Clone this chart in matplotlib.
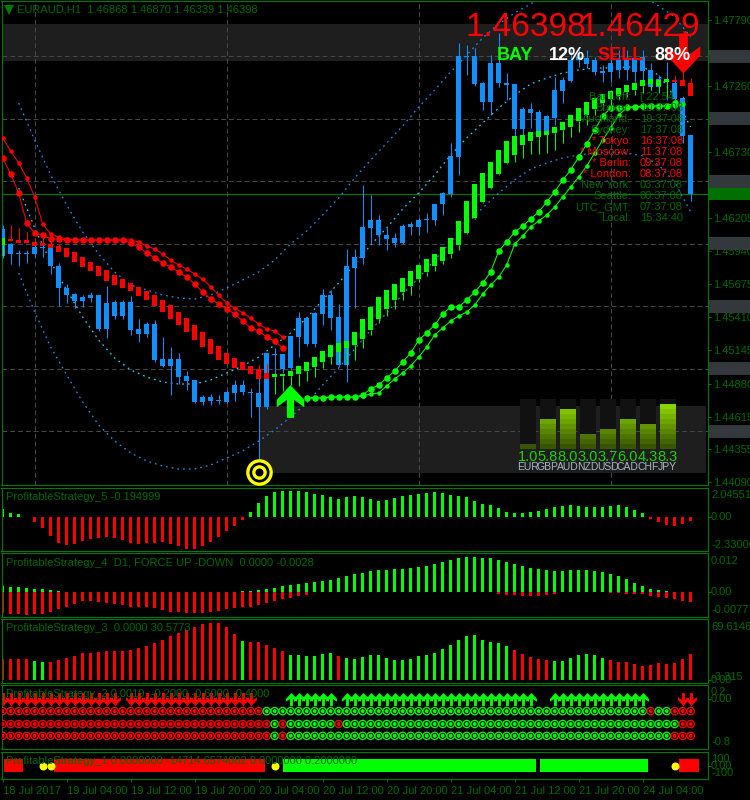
import numpy as np
import matplotlib
matplotlib.use("Agg")
import matplotlib.pyplot as plt
from matplotlib.colors import LinearSegmentedColormap
from matplotlib.patches import Rectangle
from matplotlib.path import Path

plt.rcParams['font.family'] = ['Liberation Sans', 'DejaVu Sans']

PT = 1e-5  # one broker point; price arrays below are in points
# ---------- candles ----------
body_top = [146116,145996,145924,145924,145972,145972,145972,145820,145644,145596,145572,145588,145588,145524,145532,145532,145532,145316,145356,145356,145076,145076,145076,144940,144908,144772,144772,144748,144812,144868,144868,144812,144804,145124,145116,145116,145260,145404,145404,145444,145588,145588,145412,145820,145892,146132,146188,146188,146068,146044,146140,146156,146188,146196,146316,146404,146700,147500,147500,147500,147284,147444,147444,147284,147276,147076,147076,147052,147020,147228,147308,147468,147492,147484,147468,147380,147444,147468,147484,147484,147492,147388,147316,147308,147284,147164,146868]
body_bot = [145900,145916,145916,145916,145916,145964,145820,145644,145588,145540,145540,145564,145316,145316,145420,145420,145308,145276,145276,145068,145020,145020,144932,144900,144732,144732,144740,144740,144732,144804,144812,144804,144692,144692,145108,144996,145004,145252,145196,145196,145436,145404,145028,145028,145804,145884,146124,146068,146036,146004,146004,146132,146132,146188,146188,146316,146396,146692,147492,147276,147132,147132,147284,147268,146916,146916,147044,146860,146868,147004,147220,147300,147468,147436,147372,147364,147372,147388,147388,147372,147380,147252,147252,147292,147156,146860,146398]
wick_high = [146148,146004,145948,145948,145996,145996,145996,145844,145676,145604,145588,145612,145588,145660,145548,145548,145580,145396,145372,145388,145252,145172,145124,144980,144908,144788,144796,144788,144828,144908,144908,144844,145028,145124,145164,145116,145260,145452,145404,145452,145636,145628,145516,145956,145956,146468,146388,146228,146132,146084,146156,146172,146204,146244,146316,146412,146804,147604,147588,147564,147292,147508,147684,147364,147276,147092,147124,147068,147028,147332,147332,147548,147548,147548,147492,147428,147548,147548,147548,147548,147548,147444,147348,147452,147308,147180,146870]
wick_low = [145884,145836,145820,145844,145892,145892,145756,145500,145524,145484,145492,145532,145300,145244,145396,145396,145268,145212,145252,145052,145012,144788,144876,144828,144724,144708,144708,144716,144724,144740,144788,144612,144212,144676,144948,144964,144988,145092,145180,145172,145348,145308,145012,144892,145484,145836,146004,145988,145948,145972,145996,146068,146068,146092,146148,146228,146372,146548,147348,147260,147068,147028,147252,147148,146812,146868,146924,146748,146828,146948,147124,147292,147412,147404,147348,147292,147292,147324,147308,147292,147292,147228,147204,147148,147148,146804,146339]

# ---------- smoothed red/green candles ----------
ha_top = [146044,146036,146028,146028,146012,146004,145996,145980,145964,145932,145892,145852,145820,145788,145748,145716,145684,145652,145620,145588,145548,145508,145452,145404,145348,145292,145236,145180,145124,145084,145052,145020,144996,144964,
          144956,144956,144980,145020,145052,145092,145140,145188,145204,145220,145292,145396,145492,145572,145628,145676,145724,145780,145828,145876,145916,145972,146044,146180,146340,146476,146564,146652,146748,146820,146860,146868,146892,146900,146900,146932,146972,147028,147084,147132,147164,147196,147220,147244,147268,147284,147308,147316,147308,147316,
          147308,147308,147284]
ha_bot = [145988,146020,146004,146004,145980,145980,145964,145932,145892,145852,145812,145780,145740,145700,145668,145644,145620,145580,145548,145500,145452,145396,145348,145292,145228,145172,145116,145068,145036,145004,144988,144956,144916,144916,
          144932,144940,144940,144956,144980,145012,145052,145092,145132,145164,145188,145236,145308,145396,145476,145548,145612,145660,145716,145772,145820,145860,145916,145988,146084,146204,146332,146444,146556,146644,146708,146788,146820,146852,146868,146884,146908,146932,146980,147028,147076,147124,147156,147180,147212,147228,147260,147276,147260,147292,
          147292,147260,147180]
ha_up = [True] + [False]*33 + [True]*50 + [False]*3
ha_hi_bars = [1,2,3,4,5,6,7,32,33,84,85,86]
ha_hi_tip = [146148,146124,146092,146044,146044,146028,145996,145028,145036,147348,147388,147324]
ha_lo_bars = [0] + list(range(34, 84))
ha_lo_tip = [145900,144796,144820,144868,144860,144900,144932,145004,145036,145052,145028,145068,145164,145268,145364,145420,145476,145548,145588,145692,145740,145780,145836,145884,145948,146076,146196,146324,146436,146548,146636,146652,146684,146716,146716,146724,146748,146804,146852,146892,146948,147028,147068,147108,147148,147172,147188,147204,147228,147212,147172]

# ---------- dotted trailing lines ----------
red_small = [146844,146740,146644,146524,146372,146156,146076,146052,146036,146028,146028,146028,146028,146028,146028,146028,146028,146012,145980,145956,145916,145868,145828,145796,145756,145716,145652,145588,145524,145484,145444,145404,145356,145316,145300,145252]
red_big = [146684,146556,146404,146164,146084,146068,146036,146036,146028,146028,146028,146028,146028,146028,146028,146028,146004,145972,145924,145884,145844,145812,145772,145732,145676,145612,145556,145516,145476,145436,145380,145324,145300,145252,145220,145164]
green_big = [144764,144764,144764,144772,144772,144772,144772,144788,144836,144868,144924,144980,145052,145124,145228,145284,145348,145436,145492,145492,145548,145612,145684,145772,145940,146012,146092,146140,146196,146252,146332,146412,146508,146588,146692,146796,146908,147020,147084,147084,147092,147092,147100,147100,147100,147100,147124]
green_small = [144764,144764,144764,144772,144772,144772,144772,144780,144796,144804,144860,144916,144964,145020,145092,145172,145268,145324,145380,145420,145452,145508,145596,145668,145732,145828,145996,146060,146132,146180,146228,146292,146372,146452,146532,146620,146724,146828,146924,147028,147084,147092,147092,147100,147100,147100,147100,147116]

# ---------- bands (every second bar from bar 2) ----------
band_upper = [147124,146828,146548,146308,146092,145916,145772,145668,145628,145588,145564,145556,145588,145644,145708,145772,145868,145996,146100,146228,146364,146524,146668,146804,146940,147092,147228,147372,147508,147644,147756,147844,147916,148004,148044,148068,148084,148084,148092,147980,147900,147812,147652]
band_mid = [146444,146124,145852,145628,145412,145228,145084,144988,144932,144892,144876,144876,144908,144964,145020,145092,145188,145284,145404,145548,145684,145836,145988,146124,146276,146404,146548,146708,146844,146964,147084,147188,147276,147324,147364,147388,147404,147404,147412,147412,147348,147172,146932]
band_lower = [145764,145452,145172,144948,144732,144548,144420,144324,144260,144220,144196,144196,144228,144284,144340,144420,144508,144612,144724,144868,145004,145156,145308,145444,145596,145724,145868,146012,146156,146284,146404,146508,146596,146644,146684,146708,146724,146732,146724,146700,146628,146492,146252]

# ---------- axes text ----------
plain_prices = [1.47790,1.47260,1.46730,1.46205,1.45940,1.45675,1.45410,1.45145,1.44880,1.44615,1.44355,1.44090]
round_prices = [1.47500,1.47000,1.46500,1.46000,1.45500,1.45000,1.44500]
last_price = 1.46398
time_labels = ['18 Jul 2017','19 Jul 04:00','19 Jul 12:00','19 Jul 20:00','20 Jul 04:00','20 Jul 12:00','20 Jul 20:00','21 Jul 04:00','21 Jul 12:00','21 Jul 20:00','24 Jul 04:00']
clock_names = ['Bar Left:','Broker:','Auckland:','Sydney:','* Tokyo:','* Moscow:','* Berlin:','* London:','New York:','Seattle:','UTC_GMT:','Local:']
clock_times = ['[ 22:54','10:37:08','19:37:08','17:37:08','16:37:08','11:37:08','09:37:08','08:37:08','03:37:08','00:37:08','07:37:08','15:34:40']
clock_open = [0,0,0,0,1,1,1,1,0,0,0,0]
currencies = ['EUR','GBP','AUD','NZD','USD','CAD','CHF','JPY']
strength = [1.0,5.8,8.0,3.0,3.7,6.0,4.3,8.3]

# ---------- sub-windows ----------
strat5 = [.55,.32,.21,.02,-.32,-.76,-1.31,-1.80,-1.94,-1.87,-1.66,-1.52,-1.45,-1.38,-1.45,-1.59,-1.80,-1.87,-1.80,-1.80,-1.73,-1.87,-2.00,-2.21,-2.21,-2.00,-1.73,-1.38,-.97,-.62,-.21,
          .35,.97,1.45,1.73,1.80,1.80,1.80,1.73,1.59,1.52,1.38,1.24,1.38,1.45,1.38,1.24,1.11,1.18,1.31,1.45,1.52,1.59,1.66,1.73,1.66,1.52,1.45,1.38,1.11,.90,.83,.62,.35,.28,.28,.35,.41,.55,.69,.76,.83,.76,.69,.69,.69,.76,.83,.69,.48,.28,-.14,-.35,-.55,-.62,-.48,-.28]
strat4_up = [.00185,.00154,.00154,.00123,.00092,.00092,.00062,.00031]+[0]*22+[.00031,.00031,.00062,.00092,.00123,.00185,.00216,.00246,.00277,.00308,.00339,.0037,.00431,.00493,.00555,.00585,.00647,.00678,.00678,.00709,.00709,.00739,.0077,.00801,.00863,.00924,.00986,.01048,.01078,.01078,.01048,.01048,.00986,.00924,.00863,.00801,.00739,.00709,.00678,.00647,.00647,.00678,.00678,.00678,.00647,.00616,.00555,.00493,.004,.00277,.00185,.00092,.00062,.00031,0,0,0]
strat4_dn = [-.00647,-.00678,-.00678,-.00709,-.00678,-.00678,-.00616,-.00524,-.00462,-.0037,-.00277,-.00277,-.00308,-.00339,-.0037,-.004,-.00462,-.00462,-.00462,-.00493,-.00555,-.00616,-.00616,-.00647,-.00647,-.00647,-.00616,-.00585,-.00524,-.00493,-.00462,-.00462,-.004,-.00339,-.00277,-.00216,-.00185,-.00123,-.00092]+[0]*23+[-.00062,-.00092,-.00092,-.00123,-.00123,-.00123,-.00092,-.00062]+[0]*6+[-.00031,-.00031,-.00062,-.00062,-.00062,-.00123,-.00154,-.00185,-.00216,-.00277,-.00308]
strat3 = [23.9,23.9,23.9,23.9,21.7,20.5,20.5,22.8,25.1,27.4,30.8,30.8,31.9,33.1,33.1,33.1,34.2,36.5,38.8,42.2,45.6,50.2,53.6,57.0,60.4,63.8,65.0,65.0,60.4,52.4,44.5,43.3,43.3,39.9,36.5,33.1,28.5,28.5,27.4,27.4,29.6,30.8,27.4,25.1,23.9,26.2,28.5,
          28.5,25.1,22.8,22.8,23.9,27.4,28.5,30.8,35.3,39.9,45.6,50.2,51.3,45.6,43.3,42.2,38.8,34.2,29.6,26.2,23.9,22.8,21.7,21.7,25.1,28.5,29.6,28.5,25.1,22.8,20.5,20.5,18.2,16.0,17.1,19.4,18.2,19.4,23.9,29.6]
strat3_green = [4,5,30,36,37,38,39,40,41]+list(range(43,64))+list(range(69,76))
arrows_down = list(range(0,15))+list(range(16,32))+[85,86]
arrows_up = list(range(36,42))+list(range(43,67))+list(range(69,81))
row_levels = [-0.22,-0.46,-0.68]
row_green = [list(range(33,81))+[82,83],
             [34]+list(range(36,42))+list(range(43,85)),
             [34]+list(range(36,84))]
strat1_red = [(0.2,2.6),(6.4,32.8),(84.6,87.1)]
strat1_green = [(35.1,66.7),(67.2,80.7)]
strat1_dots = [5,6,34,84]

N = 87
bars = np.arange(N)
W, H = 750, 800
GREEN_TXT = '#006a00'
FRAME = '#007a00'
RED, LIME, BLUE = '#ff0000', '#00ff00', '#1090ff'
px = 0.72  # points per pixel

fig = plt.figure(figsize=(7.5, 8), dpi=100, facecolor='black')

def panel(top, bottom):
    ax = fig.add_axes([1.5/W, 1-bottom/H, 706/W, (bottom-top)/H], facecolor='black')
    ax.set_xlim(-0.146, 88.1)
    for s in ax.spines.values():
        s.set_color(FRAME); s.set_linewidth(0.8)
    ax.tick_params(axis='both', colors=FRAME, labelcolor=GREEN_TXT, length=2.2, width=0.7, labelsize=8)
    ax.set_xticks([])
    ax.yaxis.tick_right()
    return ax

def label(x, y, s, color=GREEN_TXT, size=8, **kw):
    return fig.text(x/W, 1-y/H, s, color=color, fontsize=size, va='center', **kw)

P = lambda a: np.array(a, dtype=float)*PT

# ================= main window =================
ax = panel(1, 485)
ax.set_ylim(1.475-(485-56)/12500, 1.475+(56-1)/12500)
ax.set_yticks(plain_prices+round_prices+[last_price])
ax.set_yticklabels(['%.5f' % p for p in plain_prices+round_prices]+['%.5f' % last_price])
ax.tick_params(axis='y', pad=2)
for t in ax.get_yticklabels()[-8:-1]:
    t.set_color('#b8bcc0')
ax.get_yticklabels()[-1].set_color('black')
ybox = ax.get_yaxis_transform()
for p in round_prices:
    ax.add_patch(Rectangle((1.0021, p-0.00052), 0.0581, 0.00104, transform=ybox, clip_on=False, fc='#33383c', ec='none', zorder=2))
ax.add_patch(Rectangle((1.0021, last_price-0.00048), 0.0581, 0.00096, transform=ybox, clip_on=False, fc='#007000', ec='none', zorder=2.1))

# shaded zones
ax.axhspan(1.47948-61*8*PT, 1.47948-24*8*PT, color='#1e1e1e', lw=0, zorder=0.5)
ax.add_patch(Rectangle((32, 1.47948-472.7*8*PT), 55.9, 66.7*8*PT, fc='#1e1e1e', ec='none', zorder=0.5))

# grid
for p in round_prices:
    ax.axhline(p, color='#43484c', lw=0.75, ls=(0, (4.5, 3)), zorder=1)
for b in [4, 28, 52, 76]:
    ax.axvline(b, color='#43484c', lw=0.75, ls=(0, (4.5, 3)), zorder=1)
ax.axhline(last_price, color=FRAME, lw=0.8, zorder=1.2)

# candles
ax.vlines(bars, P(wick_low), P(wick_high), color=BLUE, lw=1*px, zorder=3)
ax.bar(bars, P(body_top)-P(body_bot), bottom=P(body_bot), width=0.625, color=BLUE, lw=0, zorder=3)
ha_col = [LIME if u else RED for u in ha_up]
ax.bar(bars, P(ha_top)-P(ha_bot), bottom=P(ha_bot), width=0.625, color=ha_col, lw=0, zorder=4)
ax.vlines(ha_hi_bars, P(ha_top)[ha_hi_bars], P(ha_hi_tip), color=[ha_col[b] for b in ha_hi_bars], lw=1*px, zorder=4)
ax.vlines(ha_lo_bars, P(ha_lo_tip), P(ha_bot)[ha_lo_bars], color=[ha_col[b] for b in ha_lo_bars], lw=1*px, zorder=4)

# bands
band_bars = np.arange(2, 87, 2)
dots = (0, (1.4, 3.2))
ax.plot(band_bars, P(band_upper), color='#2a8cf0', lw=0.9, ls=dots, zorder=2)
ax.plot(band_bars, P(band_mid), color='#30d0ff', lw=0.9, ls=dots, zorder=2)
ax.plot(band_bars, P(band_lower), color='#2a8cf0', lw=0.9, ls=dots, zorder=2)

# trailing lines
ax.plot(np.arange(36), P(red_small), '-o', color=RED, lw=0.75, ms=4.5*px, mew=0, zorder=5)
ax.plot(np.arange(36), P(red_big), '-o', color=RED, lw=0.75, ms=6.5*px, mew=0, zorder=5)
ax.plot(np.arange(38, 38+len(green_small)), P(green_small), '-o', color=LIME, lw=0.75, ms=4.5*px, mew=0, zorder=5)
ax.plot(np.arange(38, 38+len(green_big)), P(green_big), '-o', color=LIME, lw=0.75, ms=6.5*px, mew=0, zorder=5)

# signal arrows
up_shape = np.array([(0, 1), (0.84, 0.1), (0.84, -0.35), (0.22, 0.1), (0.22, -1), (-0.22, -1), (-0.22, 0.1), (-0.84, -0.35), (-0.84, 0.1), (0, 1)])
up_arrow = Path(up_shape, closed=True)
dn_arrow = Path(up_shape*[1, -1], closed=True)
ax.plot([35.9], [1.44740], marker=up_arrow, ms=32.7*px, color=LIME, mew=0, zorder=6, ls='')
ax.plot([85.1], [1.47524], marker=dn_arrow, ms=40*px, color=RED, mew=0, zorder=6, ls='')

# target
for size, col in [(26.6, '#ffff00'), (20, 'black'), (14.6, '#ffff00'), (8, 'black')]:
    ax.plot([32], [1.44172], 'o', ms=size*px, color=col, mew=0, zorder=7, clip_on=False)

# header and overlays
ax.plot([0.75], [1.47948-10*8*PT], 'v', ms=6.5, color=FRAME, mew=0, zorder=8)
label(17, 10, 'EURAUD,H1  1.46868 1.46870 1.46339 1.46398', size=8)
label(466, 27.5, '1.46398', color=RED, size=24)
label(580, 27.5, '1.46429', color=RED, size=24)
label(497, 55, 'BAY', color=LIME, size=13, fontweight='bold')
label(549, 55, '12%', color='white', size=13, fontweight='bold')
label(597, 55, 'SELL', color=RED, size=13, fontweight='bold')
label(654, 55, '88%', color='white', size=13, fontweight='bold')
for k, (n, t, o) in enumerate(zip(clock_names, clock_times, clock_open)):
    c = RED if o else GREEN_TXT
    y = 97.3 + k*11
    label(631, y, n, color=c, ha='right')
    label(640, y, t, color=c)

# currency meter
m = fig.add_axes([517.7/W, 1-449/H, 160/W, 50/H])
m.patch.set_alpha(0)
m.axis('off')
cmap = LinearSegmentedColormap.from_list('lvl', ['#3a5500', '#94e400'])
grad = np.linspace(0, 1, 10).reshape(-1, 1)
for i, v in enumerate(strength):
    m.bar(i, 10, width=0.8, color='#111111', lw=0)
    h = int(np.ceil(v))
    m.imshow(grad[:h], extent=(i-0.4, i+0.4, 0, h), origin='lower', aspect='auto', cmap=cmap, vmin=0, vmax=1, zorder=2)
    m.text(i, -1.6, '%.1f' % v, color='#20d000', fontsize=10.5, ha='center', va='center', clip_on=False,
           family=['Liberation Sans Narrow', 'Liberation Sans'])
    m.text(i, -3.6, currencies[i], color='#a8b8c8', fontsize=7.5, ha='center', va='center', clip_on=False)
m.set_xlim(-0.5, 7.5)
m.set_ylim(0, 10)

# ================= ProfitableStrategy_5 =================
a5 = panel(487.7, 551)
a5.set_ylim(-2.33006, 2.045518)
a5.set_yticks([0]); a5.set_yticklabels([''])
a5.bar(bars, strat5, width=0.375, color=[LIME if v > 0 else RED for v in strat5], lw=0)
label(6.5, 497, 'ProfitableStrategy_5 -0.194999')
label(711, 495, '2.045518'); label(711, 517.5, '0.00'); label(711, 544.5, '-2.33006')

# ================= ProfitableStrategy_4 =================
a4 = panel(553, 617)
a4.set_ylim(-0.0077, 0.012)
a4.set_yticks([0]); a4.set_yticklabels([''])
a4.bar(bars, strat4_dn, width=0.375, color=RED, lw=0)
a4.bar(bars, strat4_up, width=0.375, color=LIME, lw=0)
label(6.5, 562.5, 'ProfitableStrategy_4  D1, FORCE UP -DOWN  0.0000 -0.0028')
label(711, 560.5, '0.012'); label(711, 592, '0.00'); label(711, 610, '-0.0077')

# ================= ProfitableStrategy_3 =================
a3 = panel(619, 683)
a3.set_ylim(-3.315, 69.6146)
a3.set_yticks([0]); a3.set_yticklabels([''])
a3.bar(bars, strat3, width=0.375, color=[LIME if i in strat3_green else RED for i in bars], lw=0)
label(6.5, 628, 'ProfitableStrategy_3  0.0000 30.5773')
label(711, 627, '69.6146'); label(711, 676.7, '-3.315'); label(711, 680, '0.00')

# ================= ProfitableStrategy_2 =================
a2 = panel(685, 749)
a2.set_ylim(-0.925, 0.266)
a2.set_yticks([0]); a2.set_yticklabels([''])
a2.plot(arrows_down, np.zeros(len(arrows_down)), ls='', marker=dn_arrow, ms=13*px, color=RED, mew=0)
a2.plot(arrows_up, np.zeros(len(arrows_up)), ls='', marker=up_arrow, ms=13*px, color=LIME, mew=0)
for lvl, gr in zip(row_levels, row_green):
    cols = [LIME if i in gr else RED for i in bars]
    a2.scatter(bars, np.full(N, lvl), s=(8.6*px)**2, c=cols, lw=0, zorder=3)
    a2.scatter(bars, np.full(N, lvl), s=(5*px)**2, facecolors='none', edgecolors='black', lw=0.75, zorder=4)
label(6.5, 694, 'ProfitableStrategy_2 0.0019  -0.2000 -0.6000 -0.4000')
label(711, 692, '0.2'); label(711, 699, '0.00'); label(711, 742, '-0.8')

# ================= ProfitableStrategy_1 =================
a1 = panel(751.7, 778.7)
a1.set_ylim(-190, 206)
a1.set_yticks([0]); a1.set_yticklabels([''])
for seg, col in [(strat1_red, RED), (strat1_green, LIME)]:
    for s, e in seg:
        a1.bar(s, 190, bottom=-90, width=e-s, align='edge', color=col, lw=0)
a1.plot(strat1_dots, np.zeros(len(strat1_dots)), 'o', ms=8*px, color='#ffff00', mew=0, zorder=3)
label(6.5, 761, 'ProfitableStrategy_1 0.0000000 -14714.6574082 0.0000000 0.2000000')
label(711, 759, '100'); label(711, 765.7, '0.00'); label(711, 772.7, '-100')
a1.set_xticks(np.arange(0, 81, 8))
a1.set_xticklabels(time_labels, ha='left')
a1.tick_params(axis='x', pad=3)

fig.savefig('out.png', dpi=100, facecolor='black')
